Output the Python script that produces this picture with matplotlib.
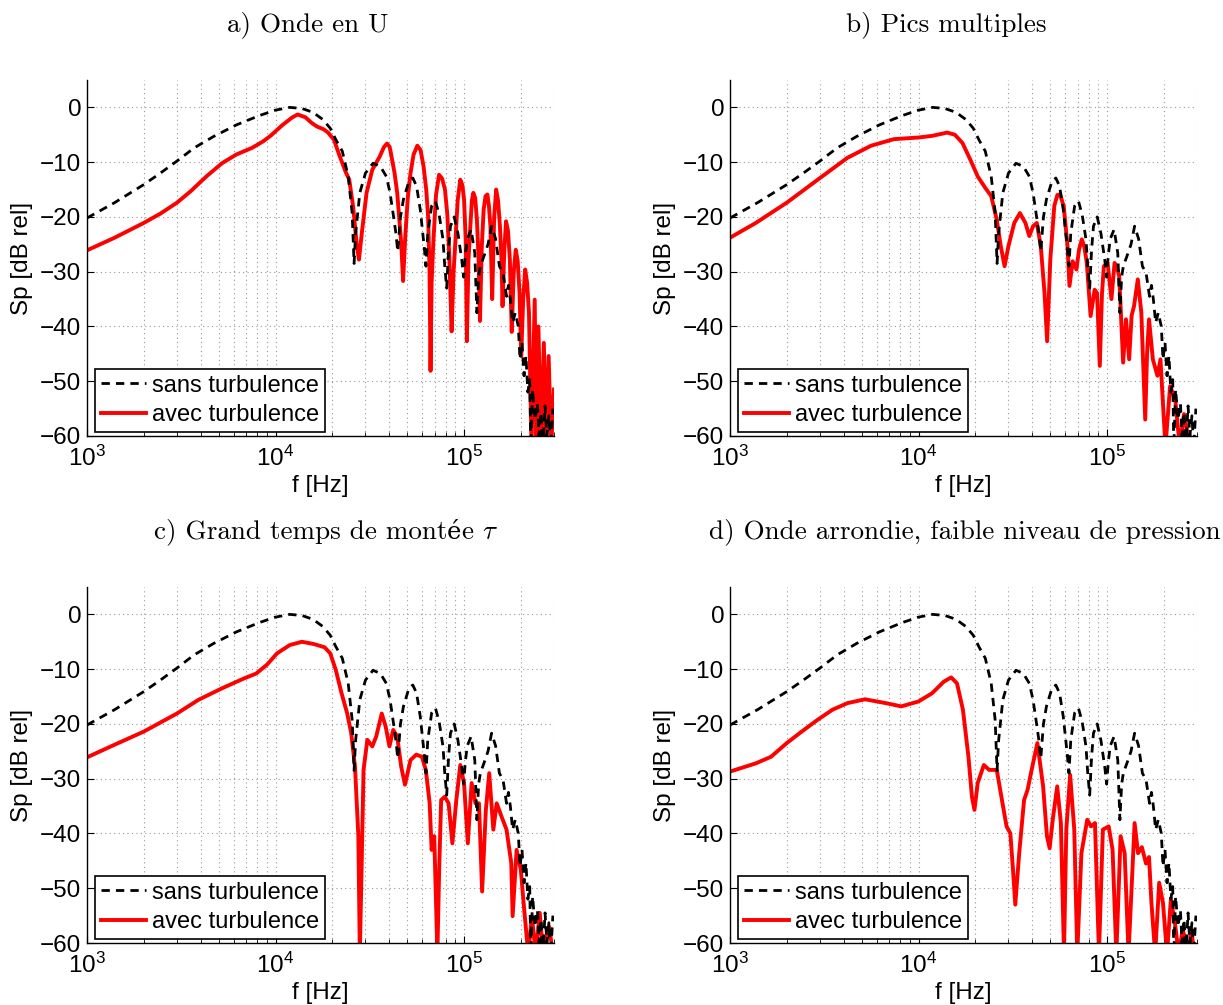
import numpy as np
import matplotlib
matplotlib.use("Agg")
import matplotlib.pyplot as plt
from matplotlib.offsetbox import TextArea, HPacker, AnchoredOffsetbox

plt.rcParams['font.family'] = ['Liberation Sans', 'DejaVu Sans']
plt.rcParams['mathtext.fontset'] = 'custom'
plt.rcParams['mathtext.rm'] = 'Liberation Sans'
plt.rcParams['mathtext.it'] = 'Liberation Sans:italic'

# spectre sans turbulence (commun aux 4 cas) : f en kHz, niveau en dB
f_ref = [1, 1.4, 2, 2.45, 3, 3.7, 4.7, 6.2, 8.2, 10, 11.9, 13.8, 15.8, 17.8, 19.5, 20.9,
         22.6, 24.3, 25.5, 26.1, 26.6, 28, 30, 32.9, 36, 38.7, 40.5, 42.5, 43.5, 44.5,
         46, 47.7, 51, 53.5, 56, 58.6, 61.4, 62.8, 64.2, 67.3, 70.5, 73.8, 77.3, 79,
         80.9, 82.8, 84.7, 88.7, 92.8, 97.2, 99.5, 101.5, 104, 109, 114, 117, 119.5, 122,
         128, 134, 140, 147, 154, 161, 168, 172, 176, 181, 187, 194, 198, 203, 208, 213,
         218, 223, 226, 231, 238, 245, 250, 256, 262, 269, 275, 282, 288, 296]
sp_ref = [-20.2, -17.4, -14.1, -12, -9.8, -7.4, -5.3, -3.2, -1.5, -0.5, 0, -0.2, -0.9,
          -2.2, -3.8, -5.9, -8.0, -12.6, -19.3, -28.5, -23, -15.6, -12, -10.2, -10.8,
          -12.6, -15.6, -20.5, -23, -26.3, -20, -16.8, -13.5, -12.9, -14.4, -18.7, -25.3,
          -29, -23, -18, -17.1, -19.6, -24.1, -29, -33, -26, -21.7, -20, -23, -27.8, -31,
          -27, -24, -22.3, -26.6, -37.5, -31, -29, -27, -25, -21.7, -24, -29, -30.2,
          -34.5, -32.5, -35, -39.3, -37.5, -40, -46, -43, -49, -45.4, -52, -49.7, -62,
          -51.5, -57, -54, -60, -55.7, -62, -54.5, -60, -56.3, -62, -55]

# a) onde en U
f_a = [1, 1.4, 2, 2.45, 3, 3.55, 4.3, 5.2, 6.2, 7.5, 8.6, 9.4, 10.9, 12.3, 13.1, 14.4,
       15.5, 16.6, 18, 19, 20.4, 21.9, 23.5, 24.6, 25.8, 27, 27.7, 28.7, 30.4, 32.6,
       35.8, 37.5, 39, 40.3, 41.2, 42.8, 44.2, 46.4, 47.5, 48.8, 50.3, 52, 54, 56.5,
       58.8, 61, 63, 64.5, 65.6, 66.4, 67.3, 68.7, 71, 73.7, 76.5, 79.2, 81.5, 83.5,
       85.9, 88, 89.9, 92.5, 95.5, 98, 100, 102, 103.5, 105.5, 108, 110, 112, 114.5,
       117, 119.5, 121.5, 124, 127, 130, 133, 135.5, 138, 141, 144.5, 148, 151.5, 155,
       158, 160, 163.5, 167, 171, 175, 179, 183.5, 188, 192.5, 197, 201, 206, 211, 216,
       221, 228, 237, 242, 248, 256, 265, 272, 281, 290, 300]
sp_a = [-26.1, -23.8, -21.1, -19.4, -17.4, -15.3, -12.6, -10.2, -8.6, -7.4, -6.2, -5.2,
        -3.2, -1.8, -1.3, -1.8, -2.8, -3.5, -4.0, -4.6, -5.9, -8.9, -11.7, -13.2, -18.1,
        -25.3, -27.8, -22.9, -15.6, -11.4, -8.9, -7.3, -6.6, -7.2, -8.9, -12, -15.6,
        -24.7, -31.7, -23.5, -16.5, -12, -8.6, -7, -7.8, -10.8, -15, -20, -30, -48.1,
        -32, -24.7, -16, -12.3, -13, -15, -19.5, -27, -40.9, -30, -24.7, -17, -13.2,
        -14.2, -16.8, -24, -42.7, -28, -21.7, -17, -15.6, -16.5, -20.5, -28, -39, -26,
        -18.7, -16.2, -15.9, -18, -21.7, -35, -20, -15, -17, -21.7, -28, -36.3, -26,
        -20.8, -22.5, -27.8, -41, -30, -26, -28, -33.9, -45.4, -35, -29.6, -32, -37.5,
        -62, -35.1, -62, -40, -62, -43, -62, -45.4, -62, -51.5]

# b) pics multiples
f_b = [1, 1.37, 2, 3, 4.2, 5.6, 7.4, 10, 11.8, 14.2, 15.6, 17.1, 18.8, 20.6, 22.6, 24.3,
       26, 27.3, 28.6, 30, 32.2, 34.5, 36.9, 38.7, 40.5, 42.4, 44.5, 46.6, 48.1, 50,
       52.5, 54.5, 56.3, 58.9, 61.7, 63.2, 65.7, 68.8, 71, 73.5, 75.8, 78.1, 81.8, 85.9,
       88.5, 91.5, 94, 96.2, 100.7, 105.5, 109.6, 112.5, 116, 121.7, 126, 131, 135, 139,
       145.6, 152, 159.4, 163, 167, 175, 185, 192, 204, 216, 230, 243, 256, 275]
sp_b = [-23.8, -21.1, -17.4, -12.9, -9.2, -7, -5.8, -5.5, -5.2, -4.6, -5, -6.5, -9.5,
        -12.6, -14.7, -16.2, -20.5, -25.3, -29, -25.3, -21.1, -19.3, -21.1, -23.5, -21.7,
        -21.1, -25.3, -33.9, -42.7, -27.8, -18, -16, -15.9, -18, -25.3, -32.6, -28.1,
        -29.6, -26, -24.1, -25.5, -28.4, -38.1, -33.3, -33.9, -47.2, -34, -29, -28.4,
        -35, -28.4, -29, -30.8, -46.6, -38.7, -46, -38, -36.3, -31.4, -37.5, -57, -45,
        -38.7, -46, -49, -46, -62, -50.9, -53.3, -62, -56, -62]

# c) grand temps de montée
f_c = [1, 1.4, 2, 3, 3.9, 5.2, 6.8, 7.9, 9, 10.2, 11.9, 13.8, 15.9, 18.2, 19.5, 20.9,
       22.4, 24, 25.2, 26.4, 27.5, 28, 28.6, 29.3, 30.7, 32.6, 34.2, 36.6, 38.4, 40.2,
       42.1, 44.2, 46.4, 48.6, 52, 55.8, 59.8, 62.7, 65.7, 67.3, 69.5, 72.2, 73.8, 75.6,
       79, 82.8, 86.7, 91, 95.5, 100, 104.7, 109.7, 115, 120, 124.7, 130.5, 136, 143,
       149, 158, 168, 178, 181, 190, 200, 207, 219, 229, 240, 252, 263, 283, 296]
sp_c = [-26.1, -23.8, -21.4, -18.1, -15.6, -13.5, -11.7, -10.8, -9.2, -7.1, -5.6, -5,
        -5.4, -6, -7.1, -10.2, -14.4, -18.1, -21.7, -27.8, -40.5, -62, -46.6, -28.4,
        -22.9, -24.1, -22.3, -18.1, -20.5, -24.1, -21.1, -22.3, -27.8, -31.1, -26.6,
        -25.6, -26, -28.4, -34.5, -43, -40.5, -62, -46.6, -33.9, -33.3, -34.5, -41.8,
        -33.9, -27.5, -30.8, -41.8, -30.8, -34.5, -34.5, -50.6, -35.7, -29, -39.3, -34.5,
        -36.9, -39.3, -45.4, -55.1, -43, -46.6, -52.7, -62, -55.1, -62, -54.5, -62, -57,
        -62]

# d) onde arrondie, faible niveau de pression
f_d = [1, 1.37, 1.65, 2, 2.4, 2.9, 3.5, 4.2, 5.2, 6.7, 8.1, 10, 11.8, 13.6, 14.9, 16,
       17.2, 18.4, 19.2, 19.8, 20.6, 22.2, 23.7, 26, 27.9, 29.3, 30.7, 31.7, 32.6, 34.2,
       36.3, 37.9, 39.8, 42.7, 45.8, 48, 49.6, 51.5, 54.4, 56.9, 59.1, 60.8, 63.7, 67,
       69.5, 73.1, 78.5, 82.3, 86.3, 90.6, 95, 102, 107, 112, 118, 124, 130, 140, 146,
       153, 161, 167, 172, 180, 189, 198, 208, 218, 229, 240, 252, 270, 280, 290]
sp_d = [-28.7, -27.2, -26, -23.5, -21.4, -19.3, -17.4, -16.2, -15.5, -16.2, -16.8, -15.9,
        -14.4, -12.3, -11.5, -12.6, -17.4, -26, -33.3, -35.7, -30.8, -27.5, -28.4,
        -28.4, -34.5, -38.7, -40, -46.6, -53, -43.6, -33.9, -32, -28.4, -23.5, -31.4,
        -40.5, -42.7, -37.5, -31.4, -38.1, -62, -39.3, -29.3, -39.3, -62, -43.6, -37.5,
        -38.7, -38.1, -62, -39.3, -38.7, -43, -62, -40.5, -43.6, -62, -38.1, -43.6,
        -42.5, -45.5, -44.3, -52.7, -62, -49, -52.7, -62, -52, -56.3, -62, -57.5, -62,
        -57.5, -62]

red_f = [f_a, f_b, f_c, f_d]
red_sp = [sp_a, sp_b, sp_c, sp_d]

W, H = 1223, 1005
fig = plt.figure(figsize=(W / 100, H / 100), dpi=100)

# boites des axes en pixels : gauche, haut
boxes = [(87, 80), (730, 80), (87, 587), (730, 587)]
aw, ah = 467, 356
fs = 17.5

for i in range(4):
    x0, y0 = boxes[i]
    ax = fig.add_axes([x0 / W, 1 - (y0 + ah) / H, aw / W, ah / H])
    ax.plot(np.array(f_ref) * 1e3, sp_ref, color='black', lw=2.0, dashes=(3, 2.2),
            label='sans turbulence', zorder=3)
    ax.plot(np.array(red_f[i]) * 1e3, red_sp[i], color='red', lw=2.8,
            label='avec turbulence', zorder=2)
    ax.set_xscale('log')
    ax.set_xlim(1e3, 3e5)
    ax.set_ylim(-60, 5)
    ax.set_yticks([-60, -50, -40, -30, -20, -10, 0])
    ax.grid(True, which='both', axis='x', color='#999999', ls=(0, (1, 3)), lw=0.8)
    ax.grid(True, which='major', axis='y', color='#999999', ls=(0, (1, 3)), lw=0.8)
    for s in ['top', 'right']:
        ax.spines[s].set_visible(False)
    for s in ['left', 'bottom']:
        ax.spines[s].set_linewidth(1.0)
    ax.tick_params(which='both', direction='in', labelsize=fs)
    ax.tick_params(axis='x', pad=7)
    ax.tick_params(axis='y', pad=4)
    ax.tick_params(which='major', length=5)
    ax.tick_params(which='minor', length=3)
    ax.set_xlabel('f [Hz]', fontsize=fs, labelpad=3)
    ax.set_ylabel('Sp [dB rel]', fontsize=fs, labelpad=5)
    leg = ax.legend(loc='lower left', bbox_to_anchor=(0.017, 0.011), fontsize=17,
                    fancybox=False, edgecolor='black', framealpha=1,
                    handlelength=1.9, handletextpad=0.25, borderpad=0.25,
                    labelspacing=0.32, borderaxespad=0)
    leg.get_frame().set_linewidth(1.2)

# titres (police Computer Modern)
tprops = dict(fontsize=19.5, family='cmr10')
fig.text(308 / W, 1 - 25 / H, 'a) Onde en U', ha='center', va='center', **tprops)
fig.text(946 / W, 1 - 25 / H, 'b) Pics multiples', ha='center', va='center', **tprops)
fig.text(965 / W, 1 - 532 / H, 'd) Onde arrondie, faible niveau de pression',
         ha='center', va='center', **tprops)
# cmr10 n'a pas le é : on le prend dans une autre police
parts = HPacker(children=[
    TextArea('c) Grand temps de mont', textprops=tprops),
    TextArea('é', textprops=dict(fontsize=17.5, family='DejaVu Serif')),
    TextArea(r'e $\tau$', textprops=dict(fontsize=19.5, family='cmr10',
                                           math_fontfamily='cm'))],
    align='baseline', pad=0, sep=0)
fig.add_artist(AnchoredOffsetbox(loc='center', child=parts, frameon=False, pad=0,
                                 borderpad=0, bbox_to_anchor=(326 / W, 1 - 532 / H),
                                 bbox_transform=fig.transFigure))

fig.savefig('out.png', dpi=100)
